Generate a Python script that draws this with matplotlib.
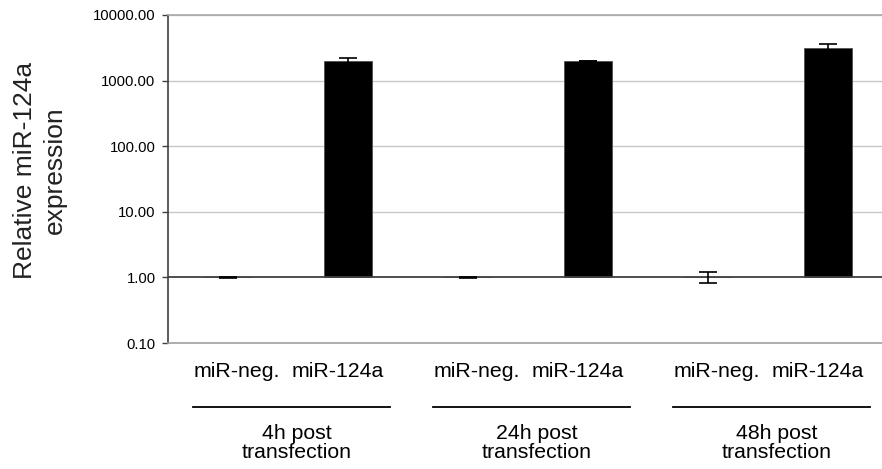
import matplotlib
matplotlib.use("Agg")
import matplotlib.pyplot as plt
from matplotlib.ticker import FixedLocator, FixedFormatter
import numpy as np

# ---- data ----
groups = ["4h post\ntransfection", "24h post\ntransfection", "48h post\ntransfection"]
conditions = ["miR-neg.", "miR-124a"]
neg_values = [1.0, 1.0, 1.0]
neg_err = [0.03, 0.01, 0.19]
mir_values = [1980, 1980, 3120]
mir_err = [220, 20, 520]
ytick_values = [0.1, 1, 10, 100, 1000, 10000]
ytick_labels = ["0.10", "1.00", "10.00", "100.00", "1000.00", "10000.00"]

plt.rcParams["font.family"] = ["Liberation Sans", "DejaVu Sans"]

W, H = 882, 469
fig = plt.figure(figsize=(W / 100, H / 100), dpi=100)
ax_left, ax_right, ax_top, ax_bot = 168, 888, 15, 343
ax = fig.add_axes([ax_left / W, 1 - ax_bot / H, (ax_right - ax_left) / W, (ax_bot - ax_top) / H])

n = len(groups)
neg_x = np.arange(n) * 2
mir_x = neg_x + 1
base = 1.0
bw = 0.4

ax.set_yscale("log")
ax.set_ylim(0.1, 10000)
ax.set_xlim(-0.5, 2 * n - 0.5)

# gridlines
for v in ytick_values[2:]:
    ax.axhline(v, color="#c8c8c8", lw=1.0, zorder=0)
ax.axhline(base, color="#404040", lw=1.3, zorder=3)

heights_neg = [v - base for v in neg_values]
heights_mir = [v - base for v in mir_values]
ax.bar(neg_x, heights_neg, width=bw, bottom=base, color="black", edgecolor="#404040", lw=0.5, zorder=2)
ax.bar(mir_x, heights_mir, width=bw, bottom=base, color="black", edgecolor="#505050", lw=0.6, zorder=2)
ax.errorbar(neg_x, neg_values, yerr=neg_err, fmt="none", ecolor="black", elinewidth=1.2,
            capsize=6.5, capthick=1.2, zorder=4)
ax.errorbar(mir_x, mir_values, yerr=mir_err, fmt="none", ecolor="black", elinewidth=1.2,
            capsize=6.5, capthick=1.2, zorder=4)

# axes styling
ax.yaxis.set_major_locator(FixedLocator(ytick_values))
ax.yaxis.set_major_formatter(FixedFormatter(ytick_labels))
ax.yaxis.set_minor_locator(FixedLocator([]))
ax.tick_params(axis="y", direction="out", length=4, width=1, color="#404040", pad=5.0,
               labelsize=10.7, labelcolor="black")
ax.tick_params(axis="x", bottom=False, labelbottom=False)
ax.spines["right"].set_visible(False)
ax.spines["left"].set_color("#404040")
ax.spines["left"].set_linewidth(1.2)
ax.spines["bottom"].set_color("#a0a0a0")
ax.spines["bottom"].set_linewidth(1.2)
ax.spines["top"].set_color("#a8a8a8")
ax.spines["top"].set_linewidth(1.2)

# category labels and group annotations
trans = ax.get_xaxis_transform()
def yax(px):
    return (ax_bot - px) / (ax_bot - ax_top)

for i, g in enumerate(groups):
    c = (neg_x[i] + mir_x[i]) / 2
    ax.text(c - 0.43, yax(371), conditions[0], transform=trans, ha="center", va="center",
            fontsize=15.3, clip_on=False)
    ax.text(c + 0.41, yax(371), conditions[1], transform=trans, ha="center", va="center",
            fontsize=15.3, clip_on=False)
    ax.plot([c - 0.79, c + 0.85], [yax(407), yax(407)], transform=trans, color="black",
            lw=1.3, clip_on=False)
    ax.text(c + 0.07, yax(443), g, transform=trans, ha="center", va="center",
            fontsize=15.3, linespacing=0.95, clip_on=False)

fig.text(40 / W, 1 - 170 / H, "Relative miR-124a\nexpression", rotation=90, ha="center",
         va="center", fontsize=19, color="#222222", linespacing=1.3)

fig.savefig("out.png", dpi=100)
